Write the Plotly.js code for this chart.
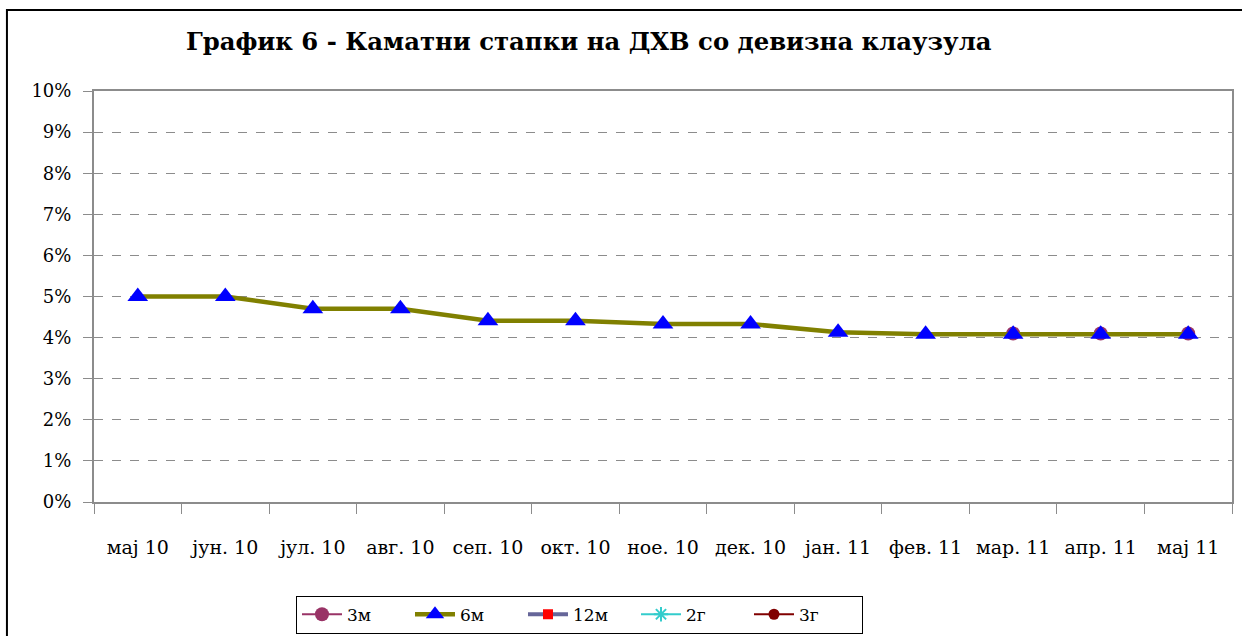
<!DOCTYPE html>
<html><head><meta charset="utf-8">
<script src="https://cdn.plot.ly/plotly-3.0.1.min.js"></script>
<style>html,body{margin:0;padding:0;background:#fff;}#chart{width:1242px;height:636px;}</style>
</head><body><div id="chart"></div>
<script>
const categories = ["мај 10","јун. 10","јул. 10","авг. 10","сеп. 10","окт. 10","ное. 10","дек. 10","јан. 11","фев. 11","мар. 11","апр. 11","мај 11"];
const rate3m  = [null,null,null,null,null,null,null,null,null,null,0.041,0.041,0.041];
const rate6m  = [0.050,0.050,0.047,0.047,0.0441,0.0441,0.0433,0.0433,0.0413,0.0408,0.0408,0.0408,0.0408];
const rate12m = categories.map(() => null);
const rate2g  = categories.map(() => null);
const rate3g  = categories.map(() => null);
const yTicks = [0,0.01,0.02,0.03,0.04,0.05,0.06,0.07,0.08,0.09,0.10];
const yTickText = ["0%","1%","2%","3%","4%","5%","6%","7%","8%","9%","10%"];

const serif = "DejaVu Serif, Liberation Serif, serif";
const traces = [
  {name:"3м", x:categories, y:rate3m, type:"scatter", mode:"lines+markers",
   line:{color:"#993366", width:2}, marker:{symbol:"circle", size:14, color:"#993366"}},
  {name:"6м", x:categories, y:rate6m, type:"scatter", mode:"lines+markers",
   line:{color:"#808000", width:4.5}, marker:{symbol:"triangle-up", size:18, color:"#0000FF"}},
  {name:"12м", x:categories, y:rate12m, type:"scatter", mode:"lines+markers",
   line:{color:"#666699", width:4}, marker:{symbol:"square", size:10, color:"#FF0000"}},
  {name:"2г", x:categories, y:rate2g, type:"scatter", mode:"lines+markers",
   line:{color:"#33CCCC", width:2}, marker:{symbol:"asterisk", size:12, color:"#33CCCC", line:{color:"#33CCCC", width:2}}},
  {name:"3г", x:categories, y:rate3g, type:"scatter", mode:"lines+markers",
   line:{color:"#800000", width:2}, marker:{symbol:"circle", size:11, color:"#800000"}}
];
const layout = {
  width:1242, height:636,
  margin:{l:94, r:10, t:91, b:134, autoexpand:false},
  paper_bgcolor:"#fff", plot_bgcolor:"#fff",
  font:{family:serif, size:18, color:"#000"},
  title:{text:"<b>График 6 - Каматни стапки на ДХВ со девизна клаузула</b>",
    font:{family:serif, size:24.3, color:"#000"}, x:0.474, xanchor:"center", y:0.935, yanchor:"middle"},
  showlegend:true,
  legend:{orientation:"h", x:0.1775, xanchor:"left", y:-0.228, yanchor:"top",
    bordercolor:"#000", borderwidth:1, font:{family:serif, size:17}, itemwidth:40, entrywidth:58, traceorder:"normal"},
  xaxis:{type:"category", range:[-0.5, 12.5], showline:true, linecolor:"#8c8c8c", linewidth:2, mirror:true,
    ticks:"outside", tickson:"boundaries", ticklen:10, tickcolor:"#8c8c8c", tickwidth:1,
    ticklabelstandoff:27, showgrid:false, zeroline:false, tickfont:{size:19}},
  yaxis:{range:[0,0.10], tickvals:yTicks, ticktext:yTickText, showline:true, linecolor:"#8c8c8c",
    linewidth:2, mirror:true, ticks:"outside", ticklen:9, tickcolor:"#8c8c8c",
    showgrid:true, gridcolor:"#8c8c8c", griddash:"dash", gridwidth:1, zeroline:false,
    ticklabelstandoff:8, tickfont:{size:18}},
  shapes:[{type:"rect", xref:"paper", yref:"paper", x0:-0.0765, x1:1.05, y0:-0.5, y1:1.197,
    line:{color:"#000", width:2}, fillcolor:"rgba(0,0,0,0)", layer:"below"}]
};
Plotly.newPlot("chart", traces, layout, {displayModeBar:false, staticPlot:true});
</script></body></html>
